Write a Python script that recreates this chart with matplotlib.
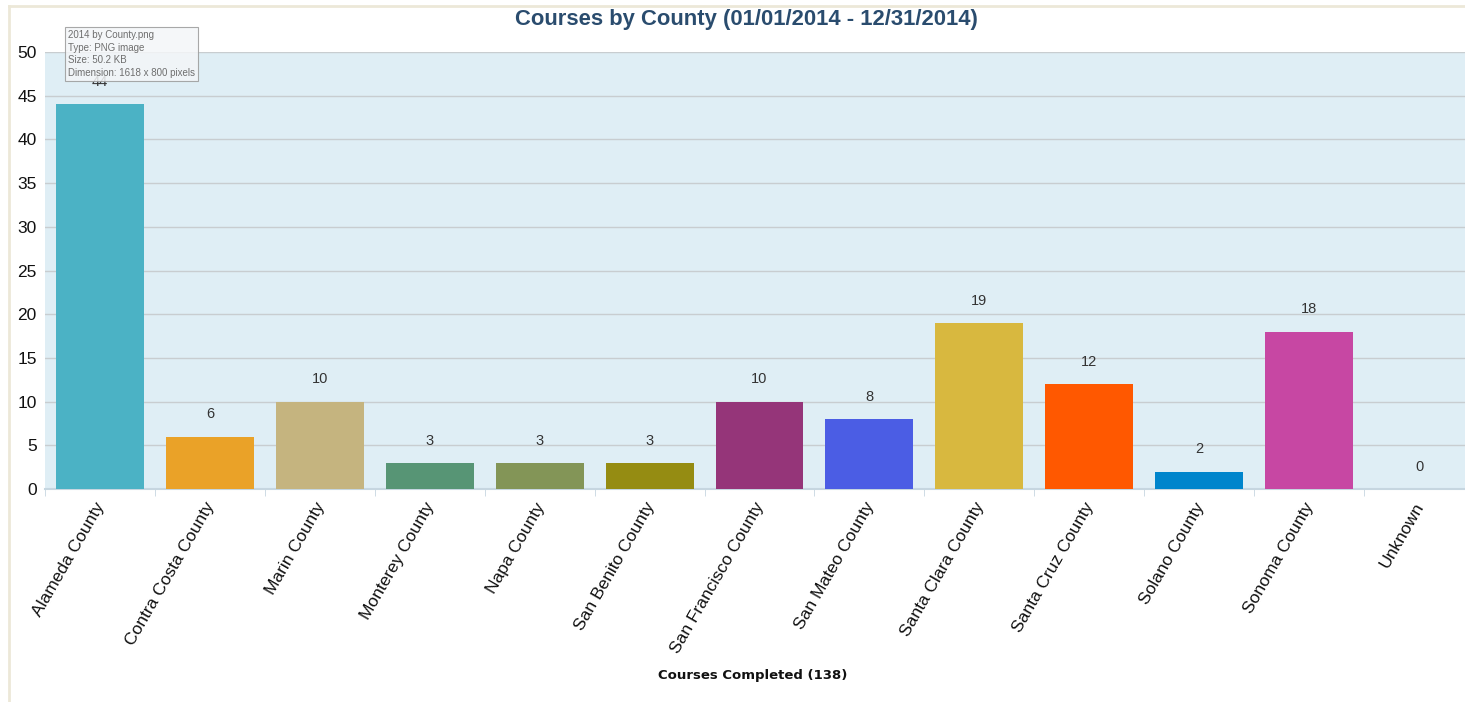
import matplotlib as mpl
mpl.use("Agg")
import matplotlib.pyplot as plt
import numpy as np
from matplotlib.lines import Line2D

counties = [
    "Alameda County", "Contra Costa County", "Marin County", "Monterey County",
    "Napa County", "San Benito County", "San Francisco County", "San Mateo County",
    "Santa Clara County", "Santa Cruz County", "Solano County", "Sonoma County",
    "Unknown",
]
courses = [44, 6, 10, 3, 3, 3, 10, 8, 19, 12, 2, 18, 0]
bar_colors = [
    "#4BB2C5", "#EAA228", "#C5B47F", "#579575", "#839557", "#958C12",
    "#953579", "#4B5DE4", "#D8B83F", "#FF5800", "#0085CC", "#C747A3", "#CDDF54",
]
y_ticks = [0, 5, 10, 15, 20, 25, 30, 35, 40, 45, 50]
title = "Courses by County (01/01/2014 - 12/31/2014)"
xlabel = "Courses Completed (138)"

plt.rcParams["font.family"] = ["Liberation Sans", "DejaVu Sans"]

fig = plt.figure(figsize=(14.65, 7.02), dpi=100)
W, H = 1465, 702
# plot area runs a little past the right edge of the screenshot
ax = fig.add_axes([45 / W, (H - 489) / H, (1474 - 45) / W, (489 - 52) / H])
ax.set_facecolor("#DFEEF5")

x = np.arange(len(counties))
ax.bar(x, courses, width=0.8, color=bar_colors, zorder=3)
for xi, v in zip(x, courses):
    ax.annotate(str(v), (xi, v), xytext=(0, 16), textcoords="offset points",
                ha="center", va="center", fontsize=10.5, color="#333333", zorder=4)

ax.set_xlim(-0.5, len(counties) - 0.5)
ax.set_ylim(0, 50)
ax.set_yticks(y_ticks)
ax.set_yticklabels([str(t) for t in y_ticks], fontsize=12.5, color="#111111")
ax.tick_params(axis="y", length=0, pad=6)
ax.grid(axis="y", color="#C8CDD0", linewidth=1, zorder=1)

ax.set_xticks(x)
ax.set_xticklabels(counties, rotation=60, ha="right", va="center_baseline",
                   rotation_mode="anchor", fontsize=12.5, color="#111111")
ax.tick_params(axis="x", which="major", length=0, pad=10)
ax.set_xticks(np.arange(-0.5, len(counties)), minor=True)
ax.tick_params(axis="x", which="minor", length=5, color="#C6D6E0")

for side in ("top", "right", "left"):
    ax.spines[side].set_visible(False)
ax.spines["bottom"].set_color("#C6D6E0")
ax.spines["bottom"].set_linewidth(1.5)

fig.text(746 / W, 1 - 20 / H, title, ha="center", va="center",
         fontsize=15.8, fontweight="bold", color="#2A4C6E")
fig.text(753 / W, 1 - 676 / H, xlabel, ha="center", va="center",
         fontsize=9.5, fontweight="bold", color="#111111", family="DejaVu Sans")

# page frame
fig.add_artist(Line2D([9 / W, 9 / W], [0, 1 - 6 / H], transform=fig.transFigure,
                      color="#ECE8D8", linewidth=2))
fig.add_artist(Line2D([9 / W, 1], [1 - 6 / H, 1 - 6 / H], transform=fig.transFigure,
                      color="#ECE8D8", linewidth=2))

# file-explorer tooltip overlay seen in the screenshot
tip = "2014 by County.png\nType: PNG image\nSize: 50.2 KB\nDimension: 1618 x 800 pixels"
fig.text(68 / W, 1 - 54 / H, tip, ha="left", va="center", fontsize=7, color="#6E6E6E",
         linespacing=1.3, zorder=10,
         bbox=dict(boxstyle="square,pad=0.35", facecolor="#F4F6F8", edgecolor="#9A9A9A",
                   linewidth=0.8, alpha=0.85))

fig.savefig("out.png", dpi=100)
